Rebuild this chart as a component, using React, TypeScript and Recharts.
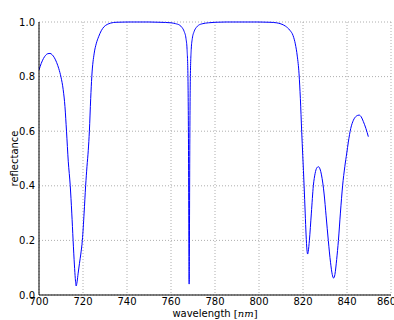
import { LineChart, Line, XAxis, YAxis, CartesianGrid } from "recharts";

// wavelength samples (nm)
const wavelength = [
  700, 701, 702, 703, 704, 705, 706, 707, 708, 709, 710, 711, 711.8, 712.5, 713.3, 714.2, 714.9, 715.5, 716.1, 716.5,
  716.9, 717.3, 717.8, 718.4, 719.0, 719.7, 720.5, 721.2, 721.8, 722.4, 722.9, 723.5, 724.0, 725.1, 726.0, 727.1,
  728.3, 729.6, 731.0, 732.6, 735, 740, 745, 750, 755, 760, 762, 764, 765, 766, 766.8, 767.3, 767.7, 767.95, 768.15,
  768.25, 768.35, 768.55, 768.8, 769.2, 769.7, 770.5, 771.5, 772.5, 774.5, 777, 780, 785, 790, 795, 800, 805, 808,
  810, 812, 814, 815.5, 816.5, 817.4, 818.2, 818.8, 819.4, 819.9, 820.5, 821.0, 821.4, 821.8, 822.1, 822.4, 822.9,
  823.8, 824.7, 825.5, 826.3, 827.0, 827.7, 828.4, 829.0, 829.6, 830.5, 831.5, 832.5, 833.3, 833.9, 834.5, 835.3,
  836.1, 837.0, 838.0, 839.0, 839.9, 840.6, 841.7, 842.9, 844.2, 845.5, 846.5, 847.4, 848.6, 849.7,
];

// reflectance at each wavelength
const reflectance = [
  0.824, 0.848, 0.866, 0.878, 0.884, 0.885, 0.88, 0.869, 0.852, 0.829, 0.798, 0.752, 0.69, 0.6, 0.49, 0.4, 0.3, 0.2,
  0.11, 0.06, 0.033, 0.048, 0.08, 0.116, 0.15, 0.2, 0.3, 0.4, 0.47, 0.53, 0.6, 0.72, 0.8, 0.886, 0.92, 0.946, 0.968,
  0.983, 0.991, 0.996, 0.999, 1.0, 1.0, 1.0, 0.999, 0.997, 0.994, 0.988, 0.98, 0.965, 0.94, 0.9, 0.8, 0.55, 0.15,
  0.04, 0.15, 0.55, 0.8, 0.9, 0.94, 0.965, 0.98, 0.988, 0.994, 0.997, 0.999, 1.0, 1.0, 1.0, 1.0, 0.999, 0.997, 0.993,
  0.985, 0.97, 0.95, 0.92, 0.875, 0.81, 0.72, 0.6, 0.51, 0.4, 0.3, 0.22, 0.165, 0.15, 0.16, 0.2, 0.3, 0.4, 0.445,
  0.466, 0.47, 0.462, 0.44, 0.41, 0.37, 0.29, 0.2, 0.12, 0.075, 0.062, 0.075, 0.13, 0.2, 0.3, 0.4, 0.47, 0.52, 0.56,
  0.61, 0.64, 0.655, 0.659, 0.652, 0.636, 0.61, 0.58,
];

const xTicks = [700, 720, 740, 760, 780, 800, 820, 840, 860];
const yTicks = [0, 0.2, 0.4, 0.6, 0.8, 1.0];

const data = wavelength.map((w, i) => ({ w, r: reflectance[i] }));

const FONT = "DejaVu Sans, sans-serif";
const tickStyle = { fontSize: 10, fill: "#000", fontFamily: FONT };
const frame = { stroke: "#000", strokeWidth: 1 };

export default function App() {
  return (
    <div style={{ position: "absolute", left: 0, top: 0 }}>
      <LineChart width={394} height={320} data={data} margin={{ top: 22, right: 3, bottom: 0, left: 0 }}>
        <CartesianGrid stroke="#999" strokeDasharray="1 2" strokeWidth={0.8} />
        <XAxis
          dataKey="w"
          type="number"
          domain={[700, 860]}
          ticks={xTicks}
          height={25}
          tickSize={0}
          tickMargin={3}
          tick={tickStyle}
          axisLine={frame}
          allowDataOverflow
          label={{
            content: ({ viewBox }: any) => (
              <text
                x={viewBox.x + viewBox.width / 2}
                y={viewBox.y + 22}
                textAnchor="middle"
                fontSize={10}
                fontFamily={FONT}
                fill="#000"
              >
                wavelength{" "}
                <tspan fontFamily="DejaVu Serif, serif">[</tspan>
                <tspan fontFamily="DejaVu Serif, serif" fontStyle="italic">nm</tspan>
                <tspan fontFamily="DejaVu Serif, serif">]</tspan>
              </text>
            ),
          }}
        />
        <XAxis
          xAxisId="top"
          orientation="top"
          dataKey="w"
          type="number"
          domain={[700, 860]}
          ticks={xTicks}
          height={0}
          tick={false}
          tickLine={false}
          axisLine={frame}
          label={{
            content: ({ viewBox }: any) => (
              <text
                x={viewBox.x + viewBox.width / 2}
                y={viewBox.y - 4}
                textAnchor="middle"
                fontSize={11.5}
                fontFamily={FONT}
                fill="#000"
              >
                DBR cavity
              </text>
            ),
          }}
        />
        <YAxis
          type="number"
          domain={[0, 1]}
          ticks={yTicks}
          width={39}
          tickSize={0}
          tickMargin={4}
          tick={tickStyle}
          tickFormatter={(v: number) => v.toFixed(1)}
          axisLine={frame}
          label={{
            content: ({ viewBox }: any) => {
              const cx = viewBox.x + 18;
              const cy = viewBox.y + viewBox.height / 2;
              return (
                <text
                  x={cx}
                  y={cy}
                  transform={`rotate(-90 ${cx} ${cy})`}
                  textAnchor="middle"
                  fontSize={10}
                  fontFamily={FONT}
                  fill="#000"
                >
                  reflectance
                </text>
              );
            },
          }}
        />
        <YAxis
          yAxisId="right"
          orientation="right"
          type="number"
          domain={[0, 1]}
          width={0}
          tick={false}
          tickLine={false}
          axisLine={frame}
        />
        <Line
          dataKey="r"
          type="monotone"
          stroke="#0000ff"
          strokeWidth={1}
          dot={false}
          isAnimationActive={false}
        />
      </LineChart>
    </div>
  );
}
